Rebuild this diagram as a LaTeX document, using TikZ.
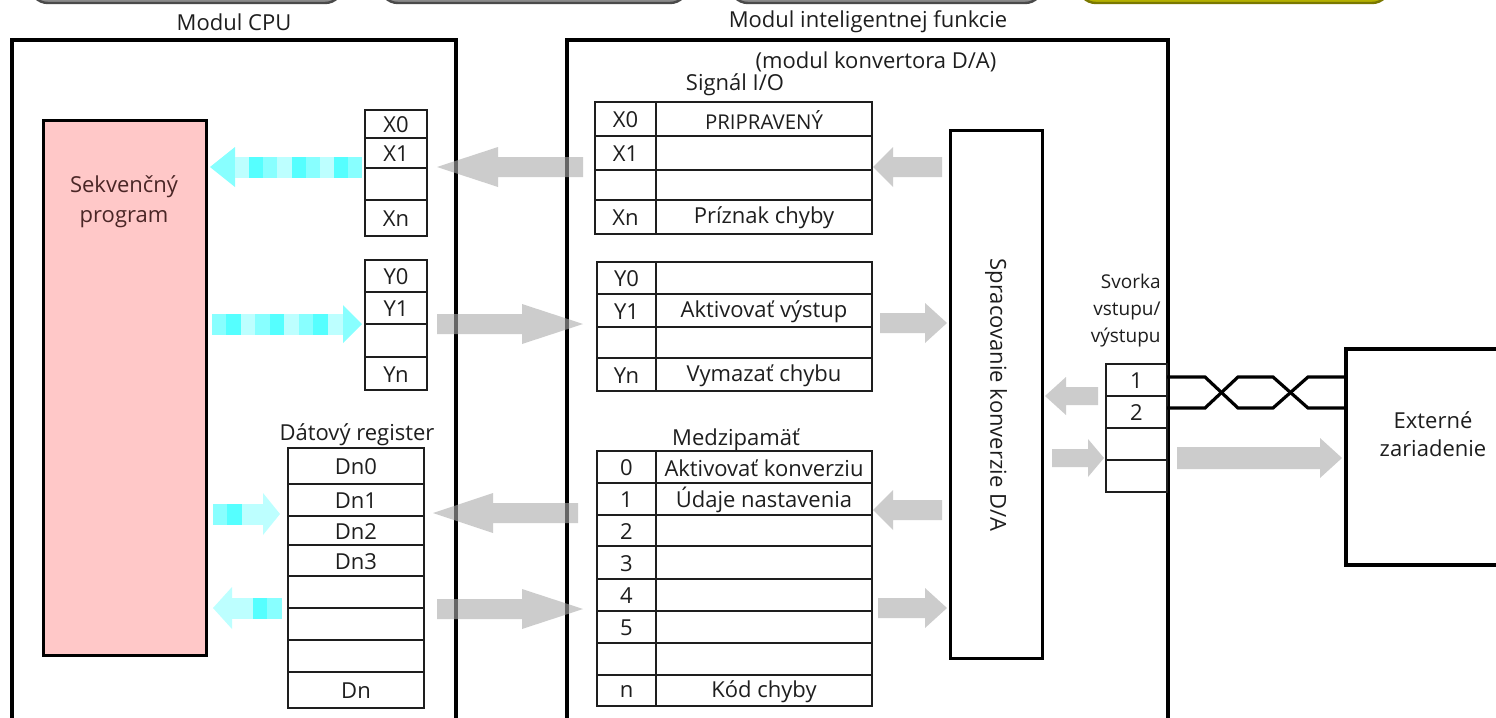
\documentclass[tikz,border=0pt]{standalone}
\usepackage{fontspec}
\setmainfont{Open Sans}
\definecolor{ink}{HTML}{1E1E1E}
\definecolor{pinkfill}{HTML}{FFC8C8}
\definecolor{pinktext}{HTML}{4A2626}
\definecolor{arrowgray}{gray}{0.667}
\definecolor{cyA}{HTML}{55FFFF}
\definecolor{cyB}{HTML}{88FFFF}
\definecolor{cyC}{HTML}{BDFFFF}
\definecolor{btngray}{HTML}{8A8A8A}
\definecolor{btnedge}{HTML}{4A4A4A}
\definecolor{btnyellow}{HTML}{B4B000}
\definecolor{btnyedge}{HTML}{7A7800}

% block arrow: [style]{tail x}{neck x}{tip x}{centre y}{shaft half width}{head half width}
\newcommand{\barrow}[7][]{%
  \fill[#1] (#2,#5-#6) -- (#3,#5-#6) -- (#3,#5-#7) -- (#4,#5) -- (#3,#5+#7)
    -- (#3,#5+#6) -- (#2,#5+#6) -- cycle;}
% one coloured block of a striped shaft: {colour}{x1}{x2}{centre y}{half width}
\newcommand{\stripe}[5]{\fill[#1] (#2,#4-#5) rectangle (#3,#4+#5);}
% table cell with its label node: {name}{x1}{y1}{x2}{y2}{text}
\newcommand{\tabcell}[6]{%
  \draw[cellline] (#2,#3) rectangle (#4,#5);
  \node[txt] (#1) at ({(#2+#4)/2},{(#3+#5)/2+1}) {#6};}

\begin{document}
\begin{tikzpicture}[x=0.5pt,y=-0.5pt,
  txt/.style={font=\fontsize{11}{12}\selectfont, text=ink, inner sep=0pt},
  small/.style={font=\fontsize{9.5}{13.5}\selectfont, text=ink, inner sep=0pt},
  cellline/.style={draw=ink, line width=0.85pt},
  module/.style={draw=black, line width=2pt},
  inner/.style={draw=black, line width=1.5pt},
  garrow/.style={fill=arrowgray, opacity=0.6},
  wire/.style={draw=black, line width=1.6pt, line join=miter},
  btn/.style={fill=btngray, draw=btnedge, line width=1.2pt, rounded corners=9pt}]

\useasboundingbox (0,0) rectangle (1496,718);
\clip (0,0) rectangle (1496,718);
\fill[white] (0,0) rectangle (1496,718);

% tab buttons along the top edge
\draw[btn] (30,-40) rectangle (343,3);
\draw[btn] (380,-40) rectangle (688,3);
\draw[btn] (730,-40) rectangle (1043,3);
\draw[btn, fill=btnyellow, draw=btnyedge] (1078,-40) rectangle (1390,3);

% module frames and their captions
\draw[module] (12,40) rectangle (456,722);
\draw[module] (567,40) rectangle (1168,722);
\node[txt] (cpucap) at (234,22) {Modul CPU};
\node[txt] (ifcap) at (868,22) {Modul inteligentnej funkcie};
\node[txt] (dacap) at (876,62) {(modul konvertora D/A)};
\node[txt] (sigcap) at (735,85) {Signál I/O};
\node[txt] (regcap) at (357,435) {Dátový register};
\node[txt] (bufcap) at (736,440) {Medzipamäť};

% sequence program
\draw[inner, fill=pinkfill] (43,120) rectangle (206,655);
\node[txt, text=pinktext, align=center, font=\fontsize{11}{15}\selectfont] (seq) at (124,202) {Sekvenčný\\program};

% CPU side X / Y devices
\tabcell{cx0}{365}{110}{427}{138}{X0}
\tabcell{cx1}{365}{138}{427}{168}{X1}
\tabcell{cx2}{365}{168}{427}{200}{}
\tabcell{cxn}{365}{200}{427}{236}{Xn}
\tabcell{cy0}{365}{260}{427}{292}{Y0}
\tabcell{cy1}{365}{292}{427}{324}{Y1}
\tabcell{cy2}{365}{324}{427}{357}{}
\tabcell{cyn}{365}{357}{427}{390}{Yn}

% data register
\tabcell{d0}{288}{448}{424}{484}{Dn0}
\tabcell{d1}{288}{484}{424}{516}{Dn1}
\tabcell{d2}{288}{516}{424}{545}{Dn2}
\tabcell{d3}{288}{545}{424}{576}{Dn3}
\tabcell{d4}{288}{576}{424}{608}{}
\tabcell{d5}{288}{608}{424}{640}{}
\tabcell{d6}{288}{640}{424}{672}{}
\tabcell{dn}{288}{672}{424}{708}{Dn}

% I/O signals of the D/A module
\tabcell{sx0}{595}{102}{656}{136}{X0}
\tabcell{sx0t}{656}{102}{872}{136}{\fontsize{10.2}{11}\selectfont PRIPRAVENÝ}
\tabcell{sx1}{595}{136}{656}{170}{X1}
\tabcell{sx1t}{656}{136}{872}{170}{}
\tabcell{sx2}{595}{170}{656}{200}{}
\tabcell{sx2t}{656}{170}{872}{200}{}
\tabcell{sxn}{595}{200}{656}{234}{Xn}
\tabcell{sxnt}{656}{200}{872}{234}{Príznak chyby}
\tabcell{sy0}{597}{262}{656}{294}{Y0}
\tabcell{sy0t}{656}{262}{872}{294}{}
\tabcell{sy1}{597}{294}{656}{327}{Y1}
\tabcell{sy1t}{656}{294}{872}{327}{Aktivovať výstup}
\tabcell{sy2}{597}{327}{656}{358}{}
\tabcell{sy2t}{656}{327}{872}{358}{}
\tabcell{syn}{597}{358}{656}{391}{Yn}
\tabcell{synt}{656}{358}{872}{391}{Vymazať chybu}

% buffer memory
\tabcell{b0}{597}{451}{656}{483}{0}
\tabcell{b0t}{656}{451}{872}{483}{Aktivovať konverziu}
\tabcell{b1}{597}{483}{656}{515}{1}
\tabcell{b1t}{656}{483}{872}{515}{Údaje nastavenia}
\tabcell{b2}{597}{515}{656}{546}{2}
\tabcell{b2t}{656}{515}{872}{546}{}
\tabcell{b3}{597}{546}{656}{579}{3}
\tabcell{b3t}{656}{546}{872}{579}{}
\tabcell{b4}{597}{579}{656}{611}{4}
\tabcell{b4t}{656}{579}{872}{611}{}
\tabcell{b5}{597}{611}{656}{643}{5}
\tabcell{b5t}{656}{611}{872}{643}{}
\tabcell{b6}{597}{643}{656}{675}{}
\tabcell{b6t}{656}{643}{872}{675}{}
\tabcell{bn}{597}{675}{656}{706}{n}
\tabcell{bnt}{656}{675}{872}{706}{Kód chyby}

% D/A conversion processing
\draw[inner] (950,130) rectangle (1042,658);
\node[txt, rotate=-90] (conv) at (996,395) {Spracovanie konverzie D/A};

% I/O terminal
\node[small, align=right, anchor=east] (termcap) at (1161,311) {Svorka\\vstupu/\\výstupu};
\tabcell{t1}{1106}{364}{1167}{396}{1}
\tabcell{t2}{1106}{396}{1167}{428}{2}
\tabcell{t3}{1106}{428}{1167}{460}{}
\tabcell{t4}{1106}{460}{1167}{492}{}

% external device
\draw[module] (1346,349) rectangle (1510,565);
\node[txt, align=center, font=\fontsize{11}{14}\selectfont] (ext) at (1433,434) {Externé\\zariadenie};

% twisted pair between terminal and device
\coordinate (w1) at (1167,377);
\coordinate (w2) at (1167,408);
\coordinate (e1) at (1346,377);
\coordinate (e2) at (1346,408);
\draw[wire] (w1) -- ++(38,0) -- ++(33,31) -- ++(35,0) -- ++(35,-31) -- (e1);
\draw[wire] (w2) -- ++(38,0) -- ++(33,-31) -- ++(35,0) -- ++(35,31) -- (e2);

% grey data-flow arrows
\barrow[garrow]{583}{498}{437}{167}{10}{20}
\barrow[garrow]{437}{522}{583}{324}{10}{20}
\barrow[garrow]{578}{493}{433}{513}{10}{20}
\barrow[garrow]{437}{522}{583}{609}{10}{20}
\barrow[garrow]{942}{893}{873}{167}{10}{20}
\barrow[garrow]{880}{925}{947}{323}{10}{20}
\barrow[garrow]{942}{893}{873}{510}{10}{20}
\barrow[garrow]{878}{925}{947}{608}{10}{20}
\barrow[garrow]{1098}{1066}{1045}{396}{9}{19}
\barrow[garrow]{1052}{1088}{1104}{458}{9}{19}
\barrow[garrow]{1177}{1320}{1342}{458}{11}{20}

% cyan arrows between program and devices
\barrow[fill=cyB]{235}{235}{210}{167}{10}{20}
\stripe{cyC}{235}{249}{167}{10.5}
\stripe{cyA}{249}{263}{167}{10.5}
\stripe{cyB}{263}{277}{167}{10.5}
\stripe{cyC}{277}{292}{167}{10.5}
\stripe{cyA}{292}{306}{167}{10.5}
\stripe{cyB}{306}{320}{167}{10.5}
\stripe{cyC}{320}{334}{167}{10.5}
\stripe{cyA}{334}{348}{167}{10.5}
\stripe{cyB}{348}{362}{167}{10.5}

\barrow[fill=cyB]{343}{343}{362}{324}{10}{19}
\stripe{cyB}{212}{226}{324}{10.5}
\stripe{cyA}{226}{241}{324}{10.5}
\stripe{cyC}{241}{255}{324}{10.5}
\stripe{cyB}{255}{270}{324}{10.5}
\stripe{cyA}{270}{284}{324}{10.5}
\stripe{cyC}{284}{299}{324}{10.5}
\stripe{cyB}{299}{313}{324}{10.5}
\stripe{cyA}{313}{328}{324}{10.5}
\stripe{cyC}{328}{343}{324}{10.5}

\barrow[fill=cyC]{263}{263}{280}{514}{10}{21}
\stripe{cyB}{213}{227}{514}{10.5}
\stripe{cyA}{227}{242}{514}{10.5}
\stripe{cyC}{242}{263}{514}{10.5}

\barrow[fill=cyC]{232}{232}{213}{608}{10}{21}
\stripe{cyC}{232}{253}{608}{10.5}
\stripe{cyA}{253}{267}{608}{10.5}
\stripe{cyB}{267}{282}{608}{10.5}
\end{tikzpicture}
\end{document}
